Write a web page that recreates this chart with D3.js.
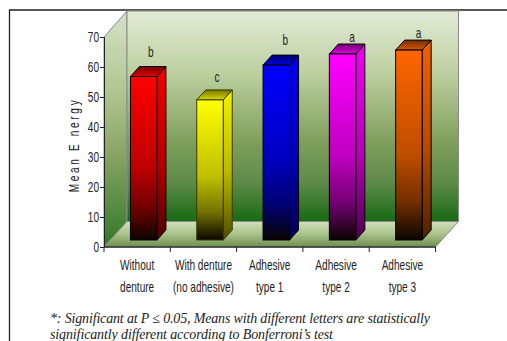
<!DOCTYPE html>
<html><head><meta charset="utf-8">
<script src="https://cdn.jsdelivr.net/npm/d3@7"></script>
<style>html,body{margin:0;padding:0;background:#fff}svg{display:block}
text{font-family:"Liberation Sans",sans-serif;fill:#222}</style>
</head><body><svg id="c" width="507" height="341"></svg>
<script>
const categories=[["Without","denture"],["With denture","(no adhesive)"],["Adhesive","type 1"],["Adhesive","type 2"],["Adhesive","type 3"]];
const values=[54.5,46.7,58.3,62,63.3];
const letters=["b","c","b","a","a"];
const colors=["#ff0000","#ffff00","#0000ff","#ff00ff","#ff6600"];
const yTicks=[0,10,20,30,40,50,60,70];
const note=["*: Significant at P ≤ 0.05, Means with different letters are statistically","significantly different according to Bonferroni’s test"];

const svg=d3.select("#c");
const defs=svg.append("defs");
const X0=104,X1=435.5,Y0=247,Y70=37,DX=23,DY=25.5,SX=0.72;
const letterShift=[[0,19.5],[0,18],[2,20],[2.5,12],[2.7,12]];
const x=d3.scaleBand().domain(d3.range(values.length)).range([X0,X1]);
const y=d3.scaleLinear().domain([0,70]).range([Y0,Y70]);
function grad(id,stops){const g=defs.append("linearGradient").attr("id",id).attr("x1",0).attr("y1",0).attr("x2",0).attr("y2",1);
  stops.forEach(s=>g.append("stop").attr("offset",s[0]).attr("stop-color",s[1]));}
grad("wall",[[0,"#e2ebd6"],[0.3,"#bccf9f"],[0.62,"#7f9f5c"],[0.82,"#5d8a48"],[1,"#176a12"]]);
grad("side",[[0,"#d5e2c6"],[0.35,"#afc58f"],[0.65,"#7f9f5c"],[1,"#2f7a26"]]);
grad("floor",[[0,"#d2e0bd"],[0.5,"#a9c28a"],[1,"#6c8f4e"]]);
colors.forEach((c,i)=>{
  const r=d3.rgb(c);const mix=t=>d3.rgb(r.r*t,r.g*t,r.b*t).formatHex();
  grad("f"+i,[[0,c],[0.55,mix(.75)],[0.8,mix(.45)],[1,"#0a0500"]]);
  grad("s"+i,[[0,mix(.95)],[0.55,mix(.72)],[1,mix(.3)]]);
  grad("t"+i,[[0,mix(.45)],[1,mix(.85)]]);
});
const pts=a=>a.map(p=>p.join(",")).join(" ");
function narrow(sel,px,py,t,size,rot){
  return sel.append("text").attr("transform",`translate(${px},${py})${rot?` rotate(${rot})`:""} scale(${SX},1)`).attr("text-anchor","middle").attr("font-size",size).text(t);
}
svg.append("path").attr("d","M507,10H9.5V341").attr("fill","none").attr("stroke","#222").attr("stroke-width",1.3);
const wx=X0+DX,wTop=y(70)-DY-.5,wBot=Y0-DY;
svg.append("polygon").attr("points",pts([[X0,y(70)],[wx,wTop],[wx,wBot],[X0,Y0]])).attr("fill","url(#side)").attr("stroke","#8a8a8a");
svg.append("rect").attr("x",wx).attr("y",wTop).attr("width",X1-X0).attr("height",wBot-wTop).attr("fill","url(#wall)").attr("stroke","#8a8a8a");
svg.append("polygon").attr("points",pts([[X0,Y0],[wx,wBot],[X1+DX,wBot],[X1,Y0]])).attr("fill","url(#floor)").attr("stroke","#8a8a8a");
const W=26.5,SD=9,ST=10,OFF=x.bandwidth()/2-6.7,BASE=7;
const g=svg.selectAll("g.bar").data(values).join("g").attr("class","bar");
g.each(function(v,i){
  const s=d3.select(this),l=x(i)+OFF,r=l+W,t=y(v)-BASE,b=Y0-BASE;
  const strokeCol=i===1?"#3a3a00":"#000";
  s.append("polygon").attr("points",pts([[r,t],[r+SD,t-ST],[r+SD,b-ST],[r,b]])).attr("fill",`url(#s${i})`).attr("stroke",strokeCol);
  s.append("polygon").attr("points",pts([[l,t],[l+SD,t-ST],[r+SD,t-ST],[r,t]])).attr("fill",`url(#t${i})`).attr("stroke",strokeCol);
  s.append("rect").attr("x",l).attr("y",t).attr("width",W).attr("height",b-t).attr("fill",`url(#f${i})`).attr("stroke",strokeCol);
  narrow(s,l+W/2+7+letterShift[i][0],t-letterShift[i][1],letters[i],14);
});
const ax=svg.append("g").attr("transform",`translate(${X0},0)`).call(d3.axisLeft(y).tickValues(yTicks).tickSize(4).tickPadding(1));
ax.selectAll("text").attr("font-size",14).attr("text-anchor","end").attr("x",0).attr("dy",null)
  .attr("transform",`translate(-5,4) scale(${SX},1)`);
ax.selectAll("line,path").attr("stroke","#222");
const bx=svg.append("g").attr("transform",`translate(0,${Y0})`);
bx.append("line").attr("x1",X0).attr("x2",X1).attr("stroke","#333").attr("stroke-width",1.4);
bx.selectAll("line.t").data(d3.range(values.length+1)).join("line").attr("class","t")
  .attr("x1",i=>i<values.length?x(i):X1).attr("x2",i=>i<values.length?x(i):X1).attr("y1",0).attr("y2",5).attr("stroke","#222");
categories.forEach((c,i)=>c.forEach((t,j)=>narrow(svg,x(i)+x.bandwidth()/2,270+j*21.5,t,14)));
narrow(svg,78.5,145,"Mean E nergy",14,-90).attr("letter-spacing",3.7);
note.forEach((t,i)=>svg.append("text").attr("x",50).attr("y",323+i*16).attr("font-size",14).attr("font-style","italic").style("font-family",'"Liberation Serif",serif').attr("textLength",i===0?380:283).text(t));
</script></body></html>
